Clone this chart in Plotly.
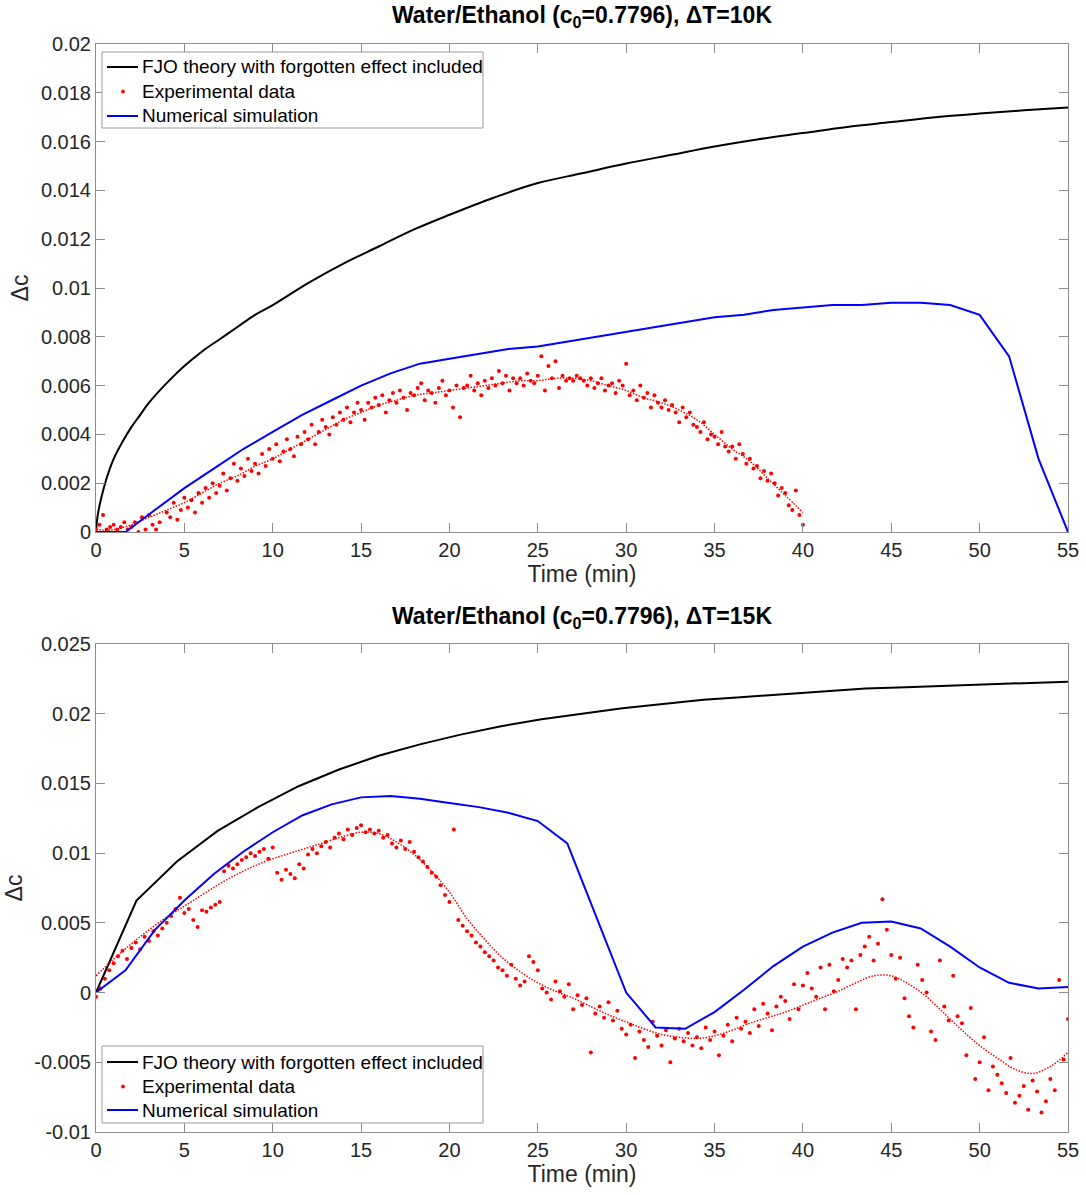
import numpy as np
import plotly.graph_objects as go

# ---------------- DATA ----------------
# Top panel (dT = 10K)
top_theory_t = [0, 0.1, 0.3, 0.6, 1.0, 1.5, 2.0, 2.5, 3.0, 4.0, 5.0, 6.0, 7.0, 8.0, 9.0, 10, 12, 14, 16, 18, 20,
                22.5, 25, 27.5, 30, 32.5, 35, 37.5, 40, 42.5, 45, 47.5, 50, 52.5, 55]
top_theory_c = [0, 0.0007, 0.0014, 0.0022, 0.0030, 0.0037, 0.0043, 0.0048, 0.0053, 0.0061, 0.0068, 0.0074,
                0.0079, 0.0084, 0.0089, 0.0093, 0.0102, 0.0110, 0.0117, 0.0124, 0.0130, 0.0137, 0.0143, 0.0147,
                0.0151, 0.01545, 0.0158, 0.0161, 0.01635, 0.0166, 0.0168, 0.0170, 0.01715, 0.01728, 0.0174]

top_sim_t = [0, 1.667, 3.333, 5, 6.667, 8.333, 10, 11.667, 13.333, 15, 16.667, 18.333, 20, 21.667, 23.333, 25,
             26.667, 28.333, 30, 31.667, 33.333, 35, 36.667, 38.333, 40, 41.667, 43.333, 45, 46.667, 48.333, 50,
             51.667, 53.333, 55]
top_sim_c = [0, 0, 0.0009, 0.0018, 0.0026, 0.0034, 0.0041, 0.0048, 0.0054, 0.0060, 0.0065, 0.0069, 0.0071,
             0.0073, 0.0075, 0.0076, 0.0078, 0.0080, 0.0082, 0.0084, 0.0086, 0.0088, 0.0089, 0.0091, 0.0092,
             0.0093, 0.0093, 0.0094, 0.0094, 0.0093, 0.0089, 0.0072, 0.0030, 0.0]

top_exp_step = 0.2
top_exp_c = [
    0.0001, 0.0003, 0.0007, 0.0001, 0.0002,
    0.0003, 0.0001, 0.0002, 0.0004, 0.0001,
    0.0002, 0.0004, 0.0000, 0.0006, 0.0001,
    0.0007, 0.0003, 0.0001, 0.0004, -0.0001,
    0.0008, 0.0006, 0.0012, 0.0005, 0.0009,
    0.0014, 0.0010, 0.0013, 0.0008, 0.0016,
    0.0012, 0.0018, 0.0014, 0.0020, 0.0016,
    0.0019, 0.0024, 0.0017, 0.0022, 0.0028,
    0.0021, 0.0026, 0.0023, 0.0030, 0.0025,
    0.0028, 0.0024, 0.0032, 0.0027, 0.0034,
    0.0030, 0.0036, 0.0029, 0.0033, 0.0038,
    0.0034, 0.0031, 0.0039, 0.0036, 0.0041,
    0.0038, 0.0044, 0.0036, 0.0041, 0.0046,
    0.0043, 0.0040, 0.0047, 0.0044, 0.0049,
    0.0046, 0.0051, 0.0045, 0.0049, 0.0053,
    0.0050, 0.0046, 0.0053, 0.0051, 0.0055,
    0.0052, 0.0056, 0.0049, 0.0054, 0.0057,
    0.0053, 0.0058, 0.0055, 0.0050, 0.0057,
    0.0056, 0.0059, 0.0061, 0.0054, 0.0058,
    0.0057, 0.0053, 0.0059, 0.0062, 0.0056,
    0.0058, 0.0051, 0.0060, 0.0047, 0.0059,
    0.0060, 0.0064, 0.0058, 0.0061, 0.0056,
    0.0062, 0.0059, 0.0063, 0.0060, 0.0066,
    0.0061, 0.0064, 0.0058, 0.0063, 0.0061,
    0.0063, 0.0060, 0.0065, 0.0062, 0.0061,
    0.0064, 0.0072, 0.0058, 0.0068, 0.0063,
    0.0070, 0.0059, 0.0064, 0.0062, 0.0063,
    0.0062, 0.0064, 0.0063, 0.0062, 0.0060,
    0.0063, 0.0059, 0.0061, 0.0063, 0.0058,
    0.0060, 0.0061, 0.0057, 0.0062, 0.0060,
    0.0069, 0.0056, 0.0058, 0.0054, 0.0060,
    0.0055, 0.0057, 0.0051, 0.0056, 0.0053,
    0.0051, 0.0054, 0.0050, 0.0052, 0.0049,
    0.0045, 0.0051, 0.0047, 0.0049, 0.0044,
    0.0043, 0.0041, 0.0045, 0.0038, 0.0040,
    0.0039, 0.0036, 0.0041, 0.0035, 0.0033,
    0.0035, 0.0030, 0.0036, 0.0032, 0.0028,
    0.0030, 0.0026, 0.0027, 0.0022, 0.0025,
    0.0021, 0.0024, 0.0020, 0.0015, 0.0018,
    0.0016, 0.0011, 0.0009, 0.0017, 0.0007,
    0.0003]

top_fit_t = [0, 1, 2, 3, 4, 5, 6, 7, 8, 9, 10, 11, 12, 13, 14, 15, 16, 17, 18, 19, 20, 21, 22, 23, 24, 25, 26,
             27, 28, 29, 30, 31, 32, 33, 34, 35, 36, 37, 38, 39, 40]
top_fit_c = [0.0001, 0.0001, 0.0003, 0.0006, 0.0009, 0.0012, 0.0016, 0.0020, 0.0023, 0.0027, 0.0030, 0.0034,
             0.0038, 0.0042, 0.0046, 0.0049, 0.0052, 0.0054, 0.0056, 0.0057, 0.0058, 0.0059, 0.0060, 0.0061,
             0.0062, 0.0062, 0.0063, 0.0063, 0.0062, 0.0060, 0.0058, 0.0055, 0.0053, 0.0050, 0.0046, 0.0040,
             0.0034, 0.0029, 0.0022, 0.0015, 0.0008]

# Bottom panel (dT = 15K)
bot_theory_t = [0, 2.29, 4.58, 6.88, 9.17, 11.46, 13.75, 16.04, 18.33, 20.63, 22.92, 25.21, 27.5, 29.79,
                32.08, 34.38, 36.67, 38.96, 41.25, 43.54, 45.83, 48.13, 50.42, 52.71, 55]
bot_theory_c = [0, 0.0066, 0.0094, 0.0116, 0.0133, 0.0148, 0.0160, 0.0170, 0.0178, 0.0185, 0.0191, 0.0196,
                0.0200, 0.0204, 0.0207, 0.0210, 0.0212, 0.0214, 0.0216, 0.0218, 0.0219, 0.0220, 0.0221,
                0.0222, 0.0223]

bot_sim_t = top_sim_t
bot_sim_c = [0, 0.0016, 0.0045, 0.0066, 0.0085, 0.0101, 0.0115, 0.0127, 0.0135, 0.0140, 0.0141, 0.0139,
             0.0136, 0.0133, 0.0129, 0.0123, 0.0107, 0.0053, 0.0000, -0.0025, -0.0026, -0.0014, 0.0002,
             0.0019, 0.0033, 0.0043, 0.0050, 0.0051, 0.0046, 0.0033, 0.0018, 0.0007, 0.0003, 0.0004]

bot_exp_step = 0.25
bot_exp_c = [
    -0.0003, 0.0003, 0.0010, 0.0016,
    0.0021, 0.0026, 0.0030, 0.0024,
    0.0032, 0.0036, 0.0031, 0.0040,
    0.0037, 0.0044, 0.0041, 0.0046,
    0.0050, 0.0055, 0.0060, 0.0068,
    0.0057, 0.0060, 0.0052, 0.0047,
    0.0059, 0.0058, 0.0061, 0.0063,
    0.0065, 0.0087, 0.0091, 0.0089,
    0.0092, 0.0095, 0.0097, 0.0100,
    0.0098, 0.0101, 0.0103, 0.0096,
    0.0104, 0.0086, 0.0081, 0.0088,
    0.0085, 0.0082, 0.0092, 0.0089,
    0.0099, 0.0103, 0.0100, 0.0105,
    0.0108, 0.0104, 0.0111, 0.0114,
    0.0110, 0.0117, 0.0113, 0.0118,
    0.0120, 0.0115, 0.0117, 0.0114,
    0.0116, 0.0111, 0.0113, 0.0107,
    0.0104, 0.0109, 0.0103, 0.0108,
    0.0101, 0.0097, 0.0094, 0.0090,
    0.0086, 0.0083, 0.0077, 0.0070,
    0.0065, 0.0117, 0.0052, 0.0048,
    0.0044, 0.0041, 0.0036, 0.0033,
    0.0029, 0.0026, 0.0023, 0.0018,
    0.0016, 0.0012, 0.0020, 0.0010,
    0.0005, 0.0008, 0.0026, 0.0022,
    0.0016, 0.0003, 0.0000, -0.0005,
    0.0008, 0.0001, -0.0003, 0.0006,
    -0.0012, -0.0002, -0.0009, -0.0004,
    -0.0043, -0.0015, -0.0010, -0.0018,
    -0.0007, -0.0020, -0.0013, -0.0026,
    -0.0030, -0.0023, -0.0047, -0.0028,
    -0.0034, -0.0039, -0.0021, -0.0031,
    -0.0038, -0.0027, -0.0050, -0.0033,
    -0.0026, -0.0035, -0.0029, -0.0038,
    -0.0032, -0.0040, -0.0025, -0.0034,
    -0.0028, -0.0045, -0.0031, -0.0023,
    -0.0035, -0.0018, -0.0026, -0.0021,
    -0.0029, -0.0012, -0.0024, -0.0008,
    -0.0015, -0.0027, -0.0010, -0.0003,
    -0.0006, -0.0019, 0.0006, -0.0012,
    0.0005, 0.0014, 0.0003, -0.0003,
    0.0018, -0.0012, 0.0020, 0.0001,
    0.0009, 0.0024, 0.0018, 0.0023,
    -0.0012, 0.0027, 0.0033, 0.0040,
    0.0023, 0.0035, 0.0067, 0.0045,
    0.0027, 0.0010, 0.0025, -0.0004,
    -0.0017, -0.0025, 0.0020, 0.0009,
    0.0000, -0.0028, -0.0034, 0.0023,
    -0.0010, -0.0020, 0.0012, -0.0017,
    -0.0022, -0.0045, -0.0011, -0.0062,
    -0.0050, -0.0032, -0.0070, -0.0053,
    -0.0059, -0.0065, -0.0072, -0.0047,
    -0.0079, -0.0074, -0.0067, -0.0084,
    -0.0063, -0.0071, -0.0086, -0.0078,
    -0.0062, -0.0070, 0.0009, -0.0048,
    -0.0019]

bot_fit_t = list(range(0, 56))
bot_fit_c = [0.0012, 0.0024, 0.0035, 0.0045, 0.0054, 0.0062, 0.0070, 0.0078, 0.0085, 0.0091, 0.0096, 0.0100,
             0.0104, 0.0108, 0.0112, 0.0115, 0.0114, 0.0108, 0.0099, 0.0087, 0.0072, 0.0053, 0.0038, 0.0025,
             0.0015, 0.0007, 0.0001, -0.0004, -0.0010, -0.0016, -0.0021, -0.0026, -0.0030, -0.0032, -0.0033,
             -0.0031, -0.0027, -0.0022, -0.0018, -0.0014, -0.0009, -0.0004, 0.0001, 0.0007, 0.0012, 0.0012,
             0.0006, -0.0003, -0.0015, -0.0027, -0.0038, -0.0047, -0.0055, -0.0058, -0.0053, -0.0043]

x_ticks = [0, 5, 10, 15, 20, 25, 30, 35, 40, 45, 50, 55]
top_y_ticks = [0, 0.002, 0.004, 0.006, 0.008, 0.01, 0.012, 0.014, 0.016, 0.018, 0.02]
top_y_labels = ["0", "0.002", "0.004", "0.006", "0.008", "0.01", "0.012", "0.014", "0.016", "0.018", "0.02"]
bot_y_ticks = [-0.01, -0.005, 0, 0.005, 0.01, 0.015, 0.02, 0.025]
bot_y_labels = ["-0.01", "-0.005", "0", "0.005", "0.01", "0.015", "0.02", "0.025"]

names = ["FJO theory with forgotten effect included", "Experimental data", "Numerical simulation"]
titles = ["Water/Ethanol (c<sub>0</sub>=0.7796), ΔT=10K", "Water/Ethanol (c<sub>0</sub>=0.7796), ΔT=15K"]

top_exp_t = [round(i * top_exp_step, 2) for i in range(len(top_exp_c))]
bot_exp_t = [round(i * bot_exp_step, 2) for i in range(len(bot_exp_c))]

# ---------------- FIGURE ----------------
W, H = 1086, 1195
ML, MR, MT, MB = 96, 18, 44, 63
plot_w = W - ML - MR
plot_h = H - MT - MB


def xp(px):
    return (px - ML) / plot_w


def yp(py):
    return (H - MB - py) / plot_h


top_dom = [yp(532), 1.0]
bot_dom = [0.0, yp(644)]

FONT = "Liberation Sans, Arial, sans-serif"
AXC = "#262626"
LINEC = "#8c8c8c"
COLORS = ["black", "#ff0000", "#0000ff"]

fig = go.Figure()


def add_panel(xa, ya, th_t, th_c, th_shape, sim_t, sim_c, ex_t, ex_c, fit_t, fit_c):
    fig.add_trace(go.Scatter(x=th_t, y=th_c, mode="lines", name=names[0], showlegend=False,
                             line=dict(color=COLORS[0], width=2, shape=th_shape), xaxis=xa, yaxis=ya))
    fig.add_trace(go.Scatter(x=ex_t, y=ex_c, mode="markers", name=names[1], showlegend=False,
                             marker=dict(color=COLORS[1], size=4), xaxis=xa, yaxis=ya))
    fig.add_trace(go.Scatter(x=fit_t, y=fit_c, mode="lines", showlegend=False,
                             line=dict(color=COLORS[1], width=1.5, dash="1.5px,1.5px", shape="spline",
                                       smoothing=1.0),
                             xaxis=xa, yaxis=ya))
    fig.add_trace(go.Scatter(x=sim_t, y=sim_c, mode="lines", name=names[2], showlegend=False,
                             line=dict(color=COLORS[2], width=2), xaxis=xa, yaxis=ya))


add_panel("x", "y", top_theory_t, top_theory_c, "spline", top_sim_t, top_sim_c,
          top_exp_t, top_exp_c, top_fit_t, top_fit_c)
add_panel("x2", "y2", bot_theory_t, bot_theory_c, "linear", bot_sim_t, bot_sim_c,
          bot_exp_t, bot_exp_c, bot_fit_t, bot_fit_c)


def xaxis_cfg(anchor):
    return dict(domain=[0, 1], anchor=anchor, range=[0, 55], tickvals=x_ticks,
                ticks="inside", ticklen=9, tickcolor=LINEC, showline=True, linecolor=LINEC,
                linewidth=1, mirror="ticks", showgrid=False, zeroline=False,
                tickfont=dict(family=FONT, size=20, color=AXC),
                title=dict(text="Time (min)", font=dict(family=FONT, size=23, color=AXC), standoff=3))


def yaxis_cfg(anchor, dom, rng, vals, labels):
    return dict(domain=dom, anchor=anchor, range=rng, tickvals=vals, ticktext=labels,
                ticks="inside", ticklen=9, tickcolor=LINEC, showline=True, linecolor=LINEC,
                linewidth=1, mirror="ticks", showgrid=False, zeroline=False,
                tickfont=dict(family=FONT, size=20, color=AXC),
                title=dict(text="Δc", font=dict(family=FONT, size=23, color=AXC), standoff=5))


# manual MATLAB-style legends (box, symbol, text)
shapes = []
annotations = []


def add_legend(box_top, box_bottom, rows):
    shapes.append(dict(type="rect", xref="paper", yref="paper", x0=xp(102), x1=xp(483),
                       y0=yp(box_bottom), y1=yp(box_top), line=dict(color="#9a9a9a", width=1),
                       fillcolor="white", layer="above"))
    for i, ry in enumerate(rows):
        if i == 1:
            shapes.append(dict(type="circle", xref="paper", yref="paper", x0=xp(121.5), x1=xp(124.5),
                               y0=yp(ry + 1.5), y1=yp(ry - 1.5), line=dict(color=COLORS[1], width=1),
                               fillcolor=COLORS[1], layer="above"))
        else:
            shapes.append(dict(type="line", xref="paper", yref="paper", x0=xp(107), x1=xp(138),
                               y0=yp(ry), y1=yp(ry), line=dict(color=COLORS[i], width=2), layer="above"))
        annotations.append(dict(text=names[i], x=xp(140), y=yp(ry), xref="paper", yref="paper",
                                xanchor="left", yanchor="middle", showarrow=False,
                                font=dict(family=FONT, size=19, color="black")))


add_legend(52, 128, [67, 91.5, 116])
add_legend(1046, 1123, [1062, 1086.5, 1110])

annotations.append(dict(text="<b>" + titles[0] + "</b>", x=0.5, y=yp(16), xref="paper", yref="paper",
                        xanchor="center", yanchor="middle", showarrow=False,
                        font=dict(family=FONT, size=23, color="black")))
annotations.append(dict(text="<b>" + titles[1] + "</b>", x=0.5, y=yp(617), xref="paper", yref="paper",
                        xanchor="center", yanchor="middle", showarrow=False,
                        font=dict(family=FONT, size=23, color="black")))

fig.update_layout(
    width=W, height=H, margin=dict(l=ML, r=MR, t=MT, b=MB, autoexpand=False),
    paper_bgcolor="white", plot_bgcolor="white",
    xaxis=xaxis_cfg("y"),
    yaxis=yaxis_cfg("x", top_dom, [0, 0.02], top_y_ticks, top_y_labels),
    xaxis2=xaxis_cfg("y2"),
    yaxis2=yaxis_cfg("x2", bot_dom, [-0.01, 0.025], bot_y_ticks, bot_y_labels),
    showlegend=False,
    shapes=shapes,
    annotations=annotations,
)

fig.write_html("out.html")
